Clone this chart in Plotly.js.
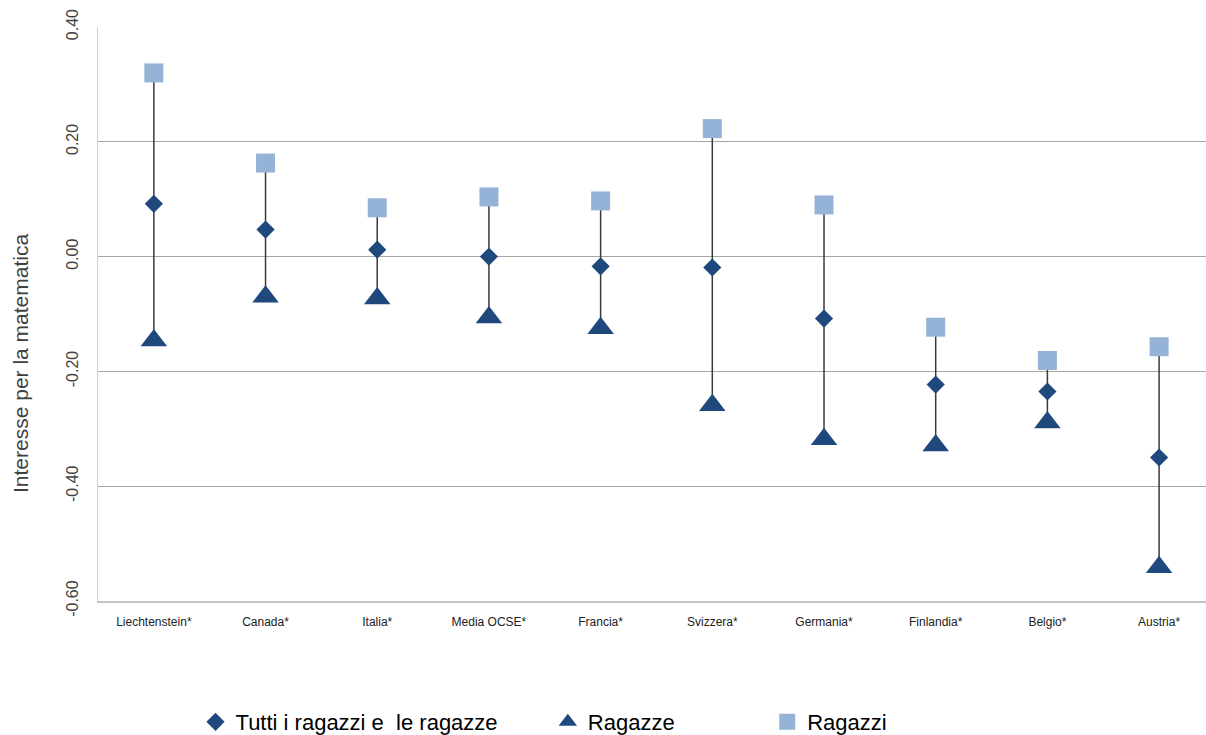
<!DOCTYPE html>
<html>
<head>
<meta charset="utf-8">
<script src="https://cdn.plot.ly/plotly-3.0.1.min.js"></script>
<style>
  html, body { margin: 0; padding: 0; background: #fff; }
  #chart { width: 1206px; height: 735px; }
</style>
</head>
<body>
<div id="chart"></div>
<script>
// Country labels along the horizontal axis
const categories = ['Liechtenstein*', 'Canada*', 'Italia*', 'Media OCSE*', 'Francia*',
                    'Svizzera*', 'Germania*', 'Finlandia*', 'Belgio*', 'Austria*'];

// Index of interest in mathematics
const tutti   = [0.092, 0.047, 0.012, 0.000, -0.017, -0.019, -0.108, -0.223, -0.235, -0.350];
const ragazze = [-0.146, -0.070, -0.073, -0.106, -0.125, -0.259, -0.318, -0.329, -0.289, -0.541];
const ragazzi = [0.320, 0.163, 0.085, 0.104, 0.097, 0.223, 0.090, -0.123, -0.181, -0.157];

// Value-axis ticks, written with a plain hyphen for negatives
const yTicks = [-0.6, -0.4, -0.2, 0.0, 0.2, 0.4];
const yTickText = yTicks.map(v => v.toFixed(2));

const NAVY = '#1F497D';
const LIGHT = '#95B3D7';
const FONT = 'Liberation Sans, Arial, sans-serif';

// High-low line from the boys' value down to the girls' value, hung on the overall trace
const upper = ragazzi.map((v, i) => Math.max(v, ragazze[i]) - tutti[i]);
const lower = ragazze.map((v, i) => tutti[i] - Math.min(v, ragazzi[i]));

const traces = [
  {
    type: 'scatter', mode: 'markers', name: 'Tutti i ragazzi e\u00a0 le ragazze',
    x: categories, y: tutti, legend: 'legend',
    marker: { symbol: 'diamond', size: 14, color: NAVY },
    error_y: { type: 'data', symmetric: false, array: upper, arrayminus: lower,
               color: '#3a3a3a', thickness: 1.5, width: 0 }
  },
  {
    type: 'scatter', mode: 'markers', name: 'Ragazze',
    x: categories, y: ragazze, legend: 'legend2',
    marker: { symbol: 'triangle-up', size: 23, color: NAVY }
  },
  {
    type: 'scatter', mode: 'markers', name: 'Ragazzi',
    x: categories, y: ragazzi, legend: 'legend3',
    marker: { symbol: 'square', size: 19, color: LIGHT }
  }
];

const legendCommon = {
  orientation: 'h', xref: 'paper', yref: 'container',
  yanchor: 'middle', xanchor: 'left', y: 0.0177,
  font: { family: FONT, size: 22, color: '#000' },
  bgcolor: 'rgba(0,0,0,0)', itemsizing: 'trace'
};

const layout = {
  width: 1206, height: 735,
  margin: { l: 98, r: 0, t: 27, b: 134 },
  paper_bgcolor: '#fff', plot_bgcolor: '#fff',
  showlegend: true,
  legend:  Object.assign({}, legendCommon, { x: 0.088 }),
  legend2: Object.assign({}, legendCommon, { x: 0.406 }),
  legend3: Object.assign({}, legendCommon, { x: 0.604 }),
  xaxis: {
    type: 'category', range: [-0.5, 9.42],
    showgrid: false, zeroline: false,
    showline: true, linecolor: '#c4c4c4', linewidth: 2,
    ticks: '', ticklabelstandoff: 9,
    tickfont: { family: FONT, size: 12, color: '#222' }
  },
  yaxis: {
    range: [-0.6, 0.4], tickvals: yTicks, ticktext: yTickText,
    tickangle: -90,
    showgrid: true, gridcolor: '#a6a6a6', gridwidth: 1,
    zeroline: false,
    showline: true, linecolor: '#d0d0d0', linewidth: 1,
    ticks: '', ticklabelstandoff: 13,
    tickfont: { family: FONT, size: 16, color: '#404040' }
  },
  annotations: [{
    text: 'Interesse per la matematica',
    xref: 'paper', yref: 'paper', x: -0.0704, y: 0.4146,
    xanchor: 'center', yanchor: 'middle', textangle: -90, showarrow: false,
    font: { family: FONT, size: 21, color: '#404040' }
  }]
};

Plotly.newPlot('chart', traces, layout, { displayModeBar: false, staticPlot: true });
</script>
</body>
</html>
